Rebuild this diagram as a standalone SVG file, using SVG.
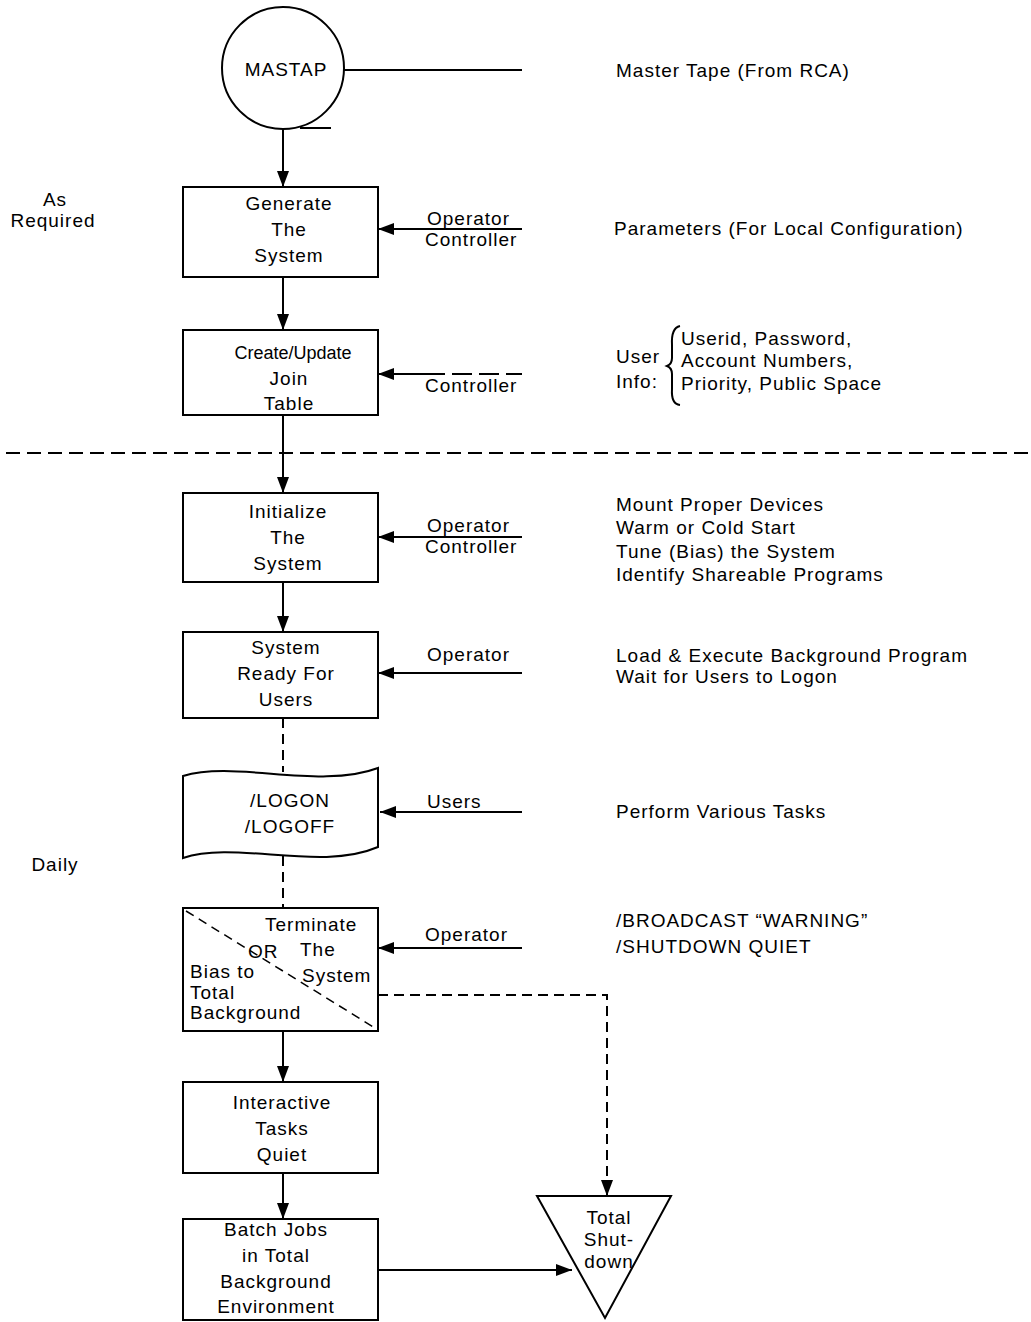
<svg xmlns="http://www.w3.org/2000/svg" width="1031" height="1322" viewBox="0 0 1031 1322">
  <style>
    text { font-family: "Liberation Sans", Arial, Helvetica, sans-serif; font-size: 19px; letter-spacing: 1px; fill: #000; }
    .c { text-anchor: middle; }
    .tight { font-size: 18px; letter-spacing: 0; }
    .box { fill: #fff; stroke: #000; stroke-width: 2; }
    .ln { fill: none; stroke: #000; stroke-width: 2; }
    .dash { fill: none; stroke: #000; stroke-width: 2; stroke-dasharray: 10 6; }
  </style>
  <defs>
    <marker id="arr" viewBox="0 0 16 12" refX="16" refY="6" markerWidth="16" markerHeight="12" markerUnits="userSpaceOnUse" orient="auto">
      <path d="M0,0 L16,6 L0,12 Z" fill="#000"/>
    </marker>
  </defs>
  <rect width="1031" height="1322" fill="#fff"/>

  <!-- section labels -->
  <g id="labels-left">
    <text class="c" x="55" y="206">As</text>
    <text class="c" x="53" y="227">Required</text>
    <text class="c" x="55" y="871">Daily</text>
  </g>

  <!-- right-hand notes -->
  <g id="notes">
    <text x="616" y="77">Master Tape (From RCA)</text>
    <text x="614" y="235">Parameters (For Local Configuration)</text>
    <text x="616" y="363">User</text>
    <text x="616" y="388">Info:</text>
    <path class="ln" d="M680,326 Q671,328 672,345 L672,358 Q672,364 667,366 Q672,368 672,374 L672,389 Q671,404 680,405" />
    <text x="681" y="345">Userid, Password,</text>
    <text x="681" y="367">Account Numbers,</text>
    <text x="681" y="390">Priority, Public Space</text>
    <text x="616" y="511">Mount Proper Devices</text>
    <text x="616" y="534">Warm or Cold Start</text>
    <text x="616" y="558">Tune (Bias) the System</text>
    <text x="616" y="581">Identify Shareable Programs</text>
    <text x="616" y="662">Load &amp; Execute Background Program</text>
    <text x="616" y="683">Wait for Users to Logon</text>
    <text x="616" y="818">Perform Various Tasks</text>
    <text x="616" y="927">/BROADCAST  “WARNING”</text>
    <text x="616" y="953">/SHUTDOWN  QUIET</text>
  </g>

  <!-- phase divider -->
  <line x1="6" y1="453" x2="1031" y2="453" stroke="#000" stroke-width="2" stroke-dasharray="14 7"/>

  <!-- connectors -->
  <g id="connectors">
    <line class="ln" x1="343" y1="70" x2="522" y2="70"/>
    <line class="ln" x1="300" y1="128" x2="331" y2="128"/>
    <line class="ln" x1="283" y1="129" x2="283" y2="187" marker-end="url(#arr)"/>
    <line class="ln" x1="283" y1="277" x2="283" y2="330" marker-end="url(#arr)"/>
    <line class="ln" x1="283" y1="415" x2="283" y2="493" marker-end="url(#arr)"/>
    <line class="ln" x1="283" y1="582" x2="283" y2="632" marker-end="url(#arr)"/>
    <line class="dash" x1="283" y1="718" x2="283" y2="772"/>
    <line class="dash" x1="283" y1="856" x2="283" y2="908"/>
    <line class="ln" x1="283" y1="1031" x2="283" y2="1082" marker-end="url(#arr)"/>
    <line class="ln" x1="283" y1="1173" x2="283" y2="1219" marker-end="url(#arr)"/>

    <line class="ln" x1="522" y1="229" x2="378" y2="229" marker-end="url(#arr)"/>
    <line class="ln" x1="425" y1="374" x2="378" y2="374" marker-end="url(#arr)"/>
    <line x1="425" y1="374" x2="522" y2="374" stroke="#000" stroke-width="2" stroke-dasharray="20 7"/>
    <line class="ln" x1="522" y1="537" x2="378" y2="537" marker-end="url(#arr)"/>
    <line class="ln" x1="522" y1="673" x2="378" y2="673" marker-end="url(#arr)"/>
    <line class="ln" x1="522" y1="812" x2="380" y2="812" marker-end="url(#arr)"/>
    <line class="ln" x1="522" y1="948" x2="378" y2="948" marker-end="url(#arr)"/>

    <path class="dash" d="M378,995 H607 V1180"/>
    <line class="ln" x1="607" y1="1180" x2="607" y2="1196" marker-end="url(#arr)"/>
    <line class="ln" x1="378" y1="1270" x2="572" y2="1270" marker-end="url(#arr)"/>
  </g>

  <!-- input labels on the arrows -->
  <g id="inputs">
    <text x="427" y="225">Operator</text>
    <text x="425" y="246">Controller</text>
    <text x="425" y="392">Controller</text>
    <text x="427" y="532">Operator</text>
    <text x="425" y="553">Controller</text>
    <text x="427" y="661">Operator</text>
    <text x="427" y="808">Users</text>
    <text x="425" y="941">Operator</text>
  </g>

  <g id="mastap">
    <circle cx="283" cy="68" r="61" fill="#fff" stroke="#000" stroke-width="2"/>
    <text class="c" x="286" y="76">MASTAP</text>
  </g>

  <g id="generate">
    <rect class="box" x="183" y="187" width="195" height="90"/>
    <text class="c" x="289" y="210">Generate</text>
    <text class="c" x="289" y="236">The</text>
    <text class="c" x="289" y="262">System</text>
  </g>

  <g id="join-table">
    <rect class="box" x="183" y="330" width="195" height="85"/>
    <text class="c tight" x="293" y="359">Create/Update</text>
    <text class="c" x="289" y="385">Join</text>
    <text class="c" x="289" y="410">Table</text>
  </g>

  <g id="initialize">
    <rect class="box" x="183" y="493" width="195" height="89"/>
    <text class="c" x="288" y="518">Initialize</text>
    <text class="c" x="288" y="544">The</text>
    <text class="c" x="288" y="570">System</text>
  </g>

  <g id="ready">
    <rect class="box" x="183" y="632" width="195" height="86"/>
    <text class="c" x="286" y="654">System</text>
    <text class="c" x="286" y="680">Ready For</text>
    <text class="c" x="286" y="706">Users</text>
  </g>

  <g id="logon">
    <path class="box" d="M183,776 C235,760 320,790 378,768 L378,847 C320,872 235,840 183,858 Z"/>
    <text class="c" x="290" y="807">/LOGON</text>
    <text class="c" x="290" y="833">/LOGOFF</text>
  </g>

  <g id="terminate">
    <rect class="box" x="183" y="908" width="195" height="123"/>
    <line x1="186" y1="911" x2="375" y2="1028" stroke="#000" stroke-width="1.5" stroke-dasharray="9 6"/>
    <text x="265" y="931">Terminate</text>
    <text x="248" y="958">OR</text>
    <text x="300" y="956">The</text>
    <text x="190" y="978">Bias to</text>
    <text x="302" y="982">System</text>
    <text x="190" y="999">Total</text>
    <text x="190" y="1019">Background</text>
  </g>

  <g id="interactive">
    <rect class="box" x="183" y="1082" width="195" height="91"/>
    <text class="c" x="282" y="1109">Interactive</text>
    <text class="c" x="282" y="1135">Tasks</text>
    <text class="c" x="282" y="1161">Quiet</text>
  </g>

  <g id="batch">
    <rect class="box" x="183" y="1219" width="195" height="101"/>
    <text class="c" x="276" y="1236">Batch Jobs</text>
    <text class="c" x="276" y="1262">in Total</text>
    <text class="c" x="276" y="1288">Background</text>
    <text class="c" x="276" y="1313">Environment</text>
  </g>

  <g id="shutdown">
    <path d="M537,1196 L671,1196 L605,1318 Z" fill="#fff" stroke="#000" stroke-width="2"/>
    <text class="c" x="609" y="1224">Total</text>
    <text class="c" x="609" y="1246">Shut-</text>
    <text class="c" x="609" y="1268">down</text>
  </g>
</svg>
